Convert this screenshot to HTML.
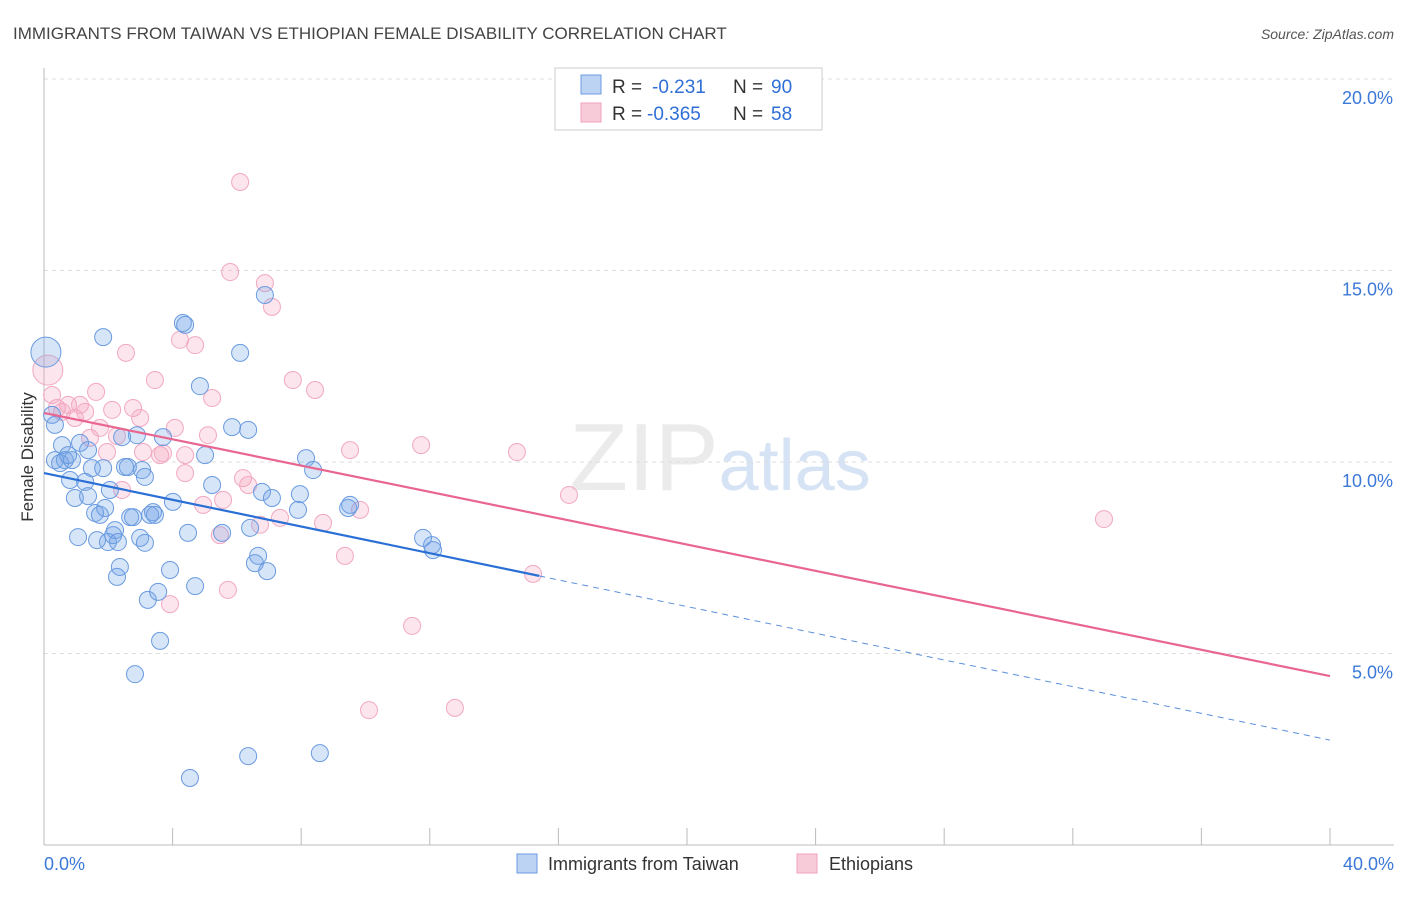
<!DOCTYPE html>
<html><head><meta charset="utf-8"><style>
body{margin:0;background:#fff;font-family:"Liberation Sans",sans-serif;}
svg text{font-family:"Liberation Sans",sans-serif;}
</style></head><body>
<svg id="chart" width="1406" height="892" xmlns="http://www.w3.org/2000/svg">
<text x="13" y="39" font-size="17" fill="#444">IMMIGRANTS FROM TAIWAN VS ETHIOPIAN FEMALE DISABILITY CORRELATION CHART</text>
<text x="1394" y="39" font-size="14" fill="#555" font-style="italic" text-anchor="end">Source: ZipAtlas.com</text>
<text x="720" y="490" font-size="96" fill="#ebebeb" text-anchor="middle" font-family="Liberation Serif">ZIP<tspan fill="#d6e3f4" font-family="Liberation Sans" font-size="72">atlas</tspan></text>
<text transform="translate(33,457) rotate(-90)" font-size="17" fill="#333" text-anchor="middle">Female Disability</text>
<g id="grid"></g>
<g id="ticks"></g>
<g id="marks"></g>
<g id="trends"></g>
<g>
<rect x="555" y="68" width="267" height="62" fill="#fff" stroke="#ccc"/>
<rect x="581" y="75" width="20" height="19" fill="#bcd3f3" stroke="#6a9be0"/>
<text x="612" y="93" font-size="19" fill="#333">R =</text>
<text x="652" y="93" font-size="19" fill="#2f6fd6">-0.231</text>
<text x="733" y="93" font-size="19" fill="#333">N =</text>
<text x="771" y="93" font-size="19" fill="#2f6fd6">90</text>
<rect x="581" y="103" width="20" height="19" fill="#f8cbd8" stroke="#f0a0bc"/>
<text x="612" y="120" font-size="19" fill="#333">R =</text>
<text x="647" y="120" font-size="19" fill="#2f6fd6">-0.365</text>
<text x="733" y="120" font-size="19" fill="#333">N =</text>
<text x="771" y="120" font-size="19" fill="#2f6fd6">58</text>
</g>
<g>
<rect x="517" y="854" width="20" height="19" fill="#bcd3f3" stroke="#6a9be0"/>
<text x="548" y="870" font-size="18" fill="#333">Immigrants from Taiwan</text>
<rect x="797" y="854" width="20" height="19" fill="#f8cbd8" stroke="#f0a0bc"/>
<text x="829" y="870" font-size="18" fill="#333">Ethiopians</text>
</g>
</svg>
<script>
const taiwanX=[0.06,0.25,0.34,0.34,0.56,0.65,0.81,0.87,0.96,1.06,1.12,1.28,1.37,1.37,1.49,1.59,1.65,1.74,1.84,1.84,1.90,1.99,2.05,2.15,2.21,2.27,2.30,2.36,2.43,2.52,2.61,2.68,2.77,2.83,2.89,2.99,3.05,3.14,3.14,3.23,3.30,3.39,3.45,3.55,3.61,3.70,3.92,4.01,4.32,4.39,4.48,4.54,4.70,4.85,5.01,5.23,5.54,5.85,6.10,6.35,6.41,6.35,6.56,6.66,6.78,6.87,6.94,7.09,7.90,7.96,8.15,8.37,8.58,9.46,9.52,11.79,12.07,12.10,0.50,0.75];
const taiwanY=[12.87,11.23,10.97,10.05,10.44,10.05,9.53,10.05,9.06,8.04,10.50,9.48,10.31,9.11,9.84,8.67,7.96,8.62,9.84,13.26,8.80,7.91,9.27,8.09,8.22,7.00,7.91,7.26,10.65,9.87,9.87,8.56,8.56,4.46,10.70,8.02,9.79,9.61,7.89,6.40,8.62,8.69,8.62,6.61,5.33,10.65,7.18,8.96,13.63,13.58,8.15,1.75,6.76,11.98,10.18,9.40,8.15,10.91,12.85,10.84,8.28,2.32,7.36,7.55,9.22,14.36,7.15,9.06,8.75,9.16,10.10,9.79,2.40,8.80,8.88,8.02,7.83,7.70,9.97,10.18];
const ethX=[0.12,0.25,0.40,0.56,0.75,0.96,1.12,1.28,1.43,1.62,1.74,1.96,2.12,2.27,2.43,2.55,2.77,2.99,3.08,3.45,3.61,3.70,4.07,4.23,4.39,4.39,4.70,4.95,5.10,5.23,5.47,5.57,5.72,5.79,6.10,6.19,6.35,6.72,6.87,7.09,7.34,7.74,8.43,8.68,9.36,9.52,9.83,10.11,11.45,11.73,12.78,14.71,15.21,16.33,32.97,3.92];
const ethY=[12.40,11.75,11.41,11.31,11.49,11.15,11.49,11.31,10.63,11.83,10.89,10.26,11.36,10.68,9.27,12.85,11.41,11.15,10.26,12.14,10.18,10.23,10.89,13.19,9.71,10.18,13.05,8.88,10.70,11.67,8.09,9.01,6.66,14.96,17.31,9.58,9.40,8.36,14.67,14.05,8.54,12.14,11.88,8.41,7.55,10.31,8.75,3.52,5.72,10.44,3.58,10.26,7.08,9.14,8.51,6.29];
const taiwanTrend=[9.71,2.74];
const ethTrend=[11.28,4.41];
const taiwanSolidEnd=15.4;
const yTicks=[5,10,15,20];
const xTickLabels=["0.0%","40.0%"];
const NS="http://www.w3.org/2000/svg";
const X0=44,X1=1330,YB=845,PX=38.3;
const sx=v=>X0+(v/40)*(X1-X0);
const sy=v=>YB-v*PX;
function mk(tag,attrs,parent){const e=document.createElementNS(NS,tag);for(const k in attrs)e.setAttribute(k,attrs[k]);parent.appendChild(e);return e;}
const grid=document.getElementById('grid'),ticks=document.getElementById('ticks'),marks=document.getElementById('marks'),trends=document.getElementById('trends');
yTicks.forEach(t=>{
 const l=mk('line',{x1:X0,x2:1394,y1:sy(t),y2:sy(t),stroke:'#ddd','stroke-dasharray':'4,4'},grid);
 
 
 const tx=mk('text',{x:1393,y:sy(t)+25,'font-size':18,fill:'#3b78d8','text-anchor':'end'},ticks);
 tx.textContent=t.toFixed(1)+'%';
 
 
});
const ax=mk('line',{x1:X0,x2:X0,y1:68,y2:YB,stroke:'#bbb'},ticks);


const bx=mk('line',{x1:X0,x2:1394,y1:YB,y2:YB,stroke:'#bbb'},ticks);


for(let i=0;i<=10;i++){const tk=mk('line',{x1:sx(i*4),x2:sx(i*4),y1:828,y2:YB,stroke:'#bbb'},ticks);
 
 }
const xl0=mk('text',{x:44,y:870,'font-size':18,fill:'#3b78d8'},ticks);xl0.textContent=xTickLabels[0];


const xl1=mk('text',{x:1394,y:870,'font-size':18,fill:'#3b78d8','text-anchor':'end'},ticks);xl1.textContent=xTickLabels[1];


function dots(xs,ys,fill,stroke,name){xs.forEach((x,i)=>{
 const r=(i===0)?15:8.5;
 const c=mk('circle',{cx:sx(x),cy:sy(ys[i]),r:r,fill:fill,stroke:stroke,'stroke-width':1},marks);
 
 });}
dots(ethX,ethY,'rgba(244,160,188,0.28)','#f2a8c2','ethiopians-point');
dots(taiwanX,taiwanY,'rgba(110,160,230,0.28)','#6a9be0','taiwan-point');
const ty=x=>taiwanTrend[0]+(taiwanTrend[1]-taiwanTrend[0])*x/40;
const ey=x=>ethTrend[0]+(ethTrend[1]-ethTrend[0])*x/40;
const t1=mk('line',{x1:sx(0),y1:sy(ty(0)),x2:sx(taiwanSolidEnd),y2:sy(ty(taiwanSolidEnd)),stroke:'#2a6fd6','stroke-width':2.2},trends);


const t2=mk('line',{x1:sx(taiwanSolidEnd),y1:sy(ty(taiwanSolidEnd)),x2:sx(40),y2:sy(ty(40)),stroke:'#5b8fdc','stroke-width':1,'stroke-dasharray':'6,5'},trends);


const t3=mk('line',{x1:sx(0),y1:sy(ey(0)),x2:sx(40),y2:sy(ey(40)),stroke:'#e8668f','stroke-width':2.2},trends);


</script>
</body></html>
